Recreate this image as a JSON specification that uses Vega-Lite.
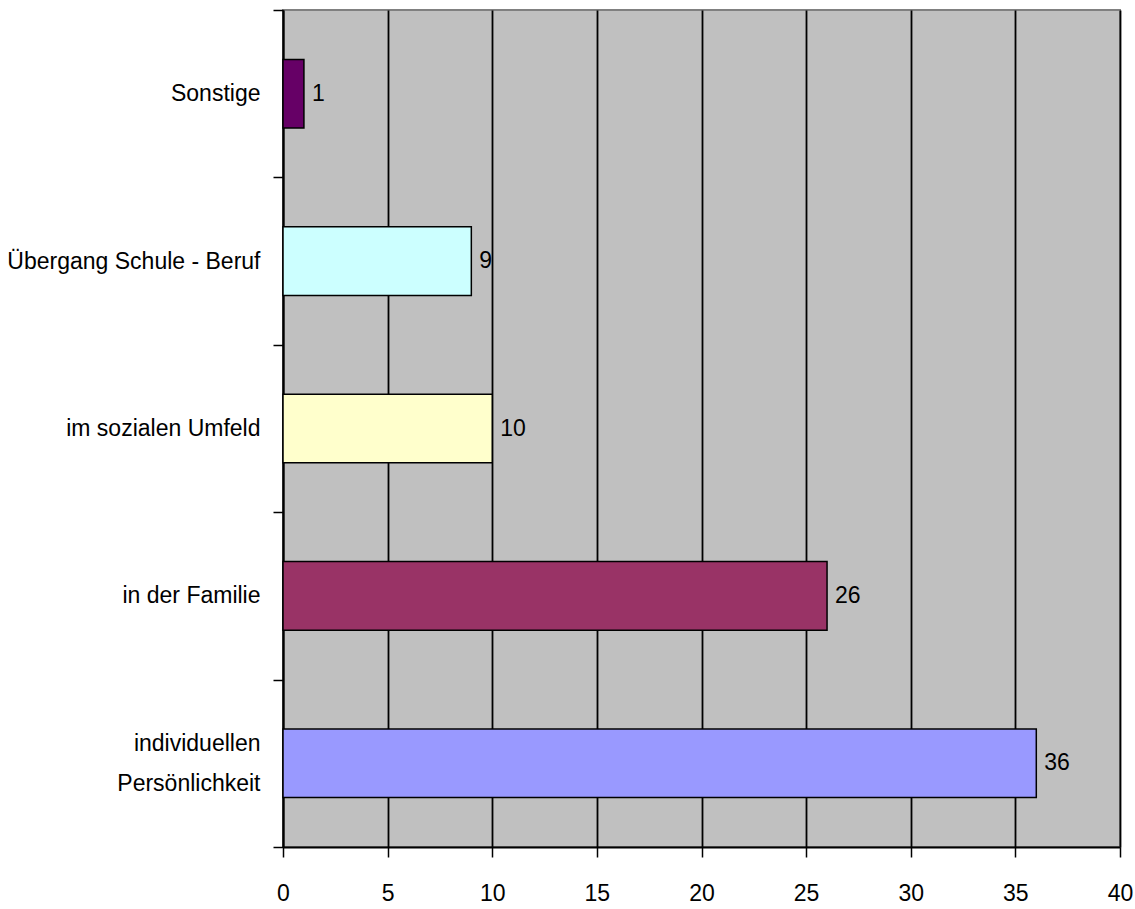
{
  "$schema": "https://vega.github.io/schema/vega-lite/v6.json",
  "autosize": {"type": "none"},
  "padding": {"left": 283, "top": 10, "right": 15, "bottom": 62},
  "width": 837,
  "height": 837,
  "background": "white",
  "config": {
    "font": "Liberation Sans",
    "view": {"fill": "#C0C0C0", "stroke": "#808080", "strokeWidth": 2}
  },
  "data": {
    "values": [
      {"category": "Sonstige", "value": 1, "color": "#660066"},
      {"category": "Übergang Schule - Beruf", "value": 9, "color": "#CCFFFF"},
      {"category": "im sozialen Umfeld", "value": 10, "color": "#FFFFCC"},
      {"category": "in der Familie", "value": 26, "color": "#993366"},
      {"category": "individuellen Persönlichkeit", "value": 36, "color": "#9999FF"}
    ]
  },
  "encoding": {
    "y": {
      "field": "category",
      "type": "nominal",
      "sort": null,
      "scale": {"paddingInner": 0, "paddingOuter": 0},
      "axis": {
        "title": null,
        "tickBand": "extent",
        "tickSize": 10,
        "tickColor": "black",
        "tickWidth": 1.5,
        "domainColor": "black",
        "domainWidth": 2,
        "labelPadding": 13,
        "labelFontSize": 23,
        "labelColor": "black",
        "labelLineHeight": 40,
        "labelLimit": 400,
        "labelOffset": {"condition": {"test": "datum.value == 'individuellen Persönlichkeit'", "value": -20}, "value": 0},
        "labelExpr": "datum.label == 'individuellen Persönlichkeit' ? ['individuellen\u00a0', 'Persönlichkeit'] : datum.label"
      }
    },
    "x": {
      "field": "value",
      "type": "quantitative",
      "scale": {"domain": [0, 40], "nice": false},
      "axis": {
        "title": null,
        "values": [0, 5, 10, 15, 20, 25, 30, 35, 40],
        "grid": true,
        "gridColor": "black",
        "gridWidth": 1.8,
        "gridOpacity": 1,
        "tickSize": 10,
        "tickColor": "black",
        "tickWidth": 1.5,
        "domainColor": "black",
        "domainWidth": 2,
        "labelPadding": 25,
        "labelFontSize": 23,
        "labelColor": "black",
        "labelFlush": false
      }
    }
  },
  "layer": [
    {
      "mark": {"type": "bar", "stroke": "black", "strokeWidth": 1.5, "height": {"band": 0.41}},
      "encoding": {
        "color": {"field": "color", "type": "nominal", "scale": null, "legend": null}
      }
    },
    {
      "mark": {"type": "text", "align": "left", "baseline": "middle", "dx": 8, "fontSize": 23, "color": "black"},
      "encoding": {
        "text": {"field": "value", "type": "quantitative"}
      }
    }
  ]
}
